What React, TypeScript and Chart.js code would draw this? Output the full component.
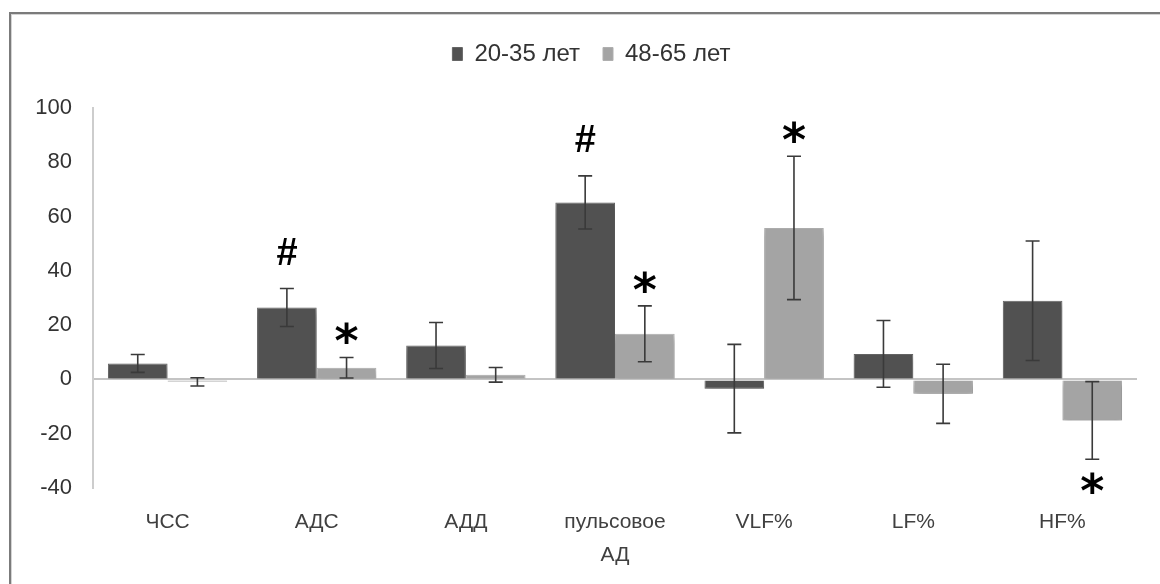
import React, { useEffect, useRef } from 'react';
import { Chart, registerables } from 'chart.js';

Chart.register(...registerables);

const categories: (string | string[])[] = ['ЧСС', 'АДС', 'АДД', ['пульсовое', 'АД'], 'VLF%', 'LF%', 'HF%'];
const seriesNames = ['20-35 лет', '48-65 лет'];
const young = [5.9, 26.5, 12.5, 65.2, -3.4, 9.4, 29.0];
const youngErr = [3.3, 7.0, 8.5, 9.8, 16.3, 12.3, 22.0];
const old = [-0.9, 4.3, 1.7, 16.8, 55.8, -5.3, -15.1];
const oldErr = [1.5, 3.8, 2.7, 10.3, 26.4, 10.9, 14.3];
const yMin = -40;
const yMax = 100;
const yStep = 20;
const markSeries = [0, 1, 0, 1, 1, 1];
const markIndex = [1, 1, 3, 3, 4, 6];
const markText = ['#', '*', '#', '*', '*', '*'];
const markSide = ['up', 'up', 'up', 'up', 'up', 'down'];

const FONT = '"Liberation Sans", Arial, sans-serif';

export default function App() {
  const ref = useRef<HTMLCanvasElement | null>(null);

  useEffect(() => {
    if (!ref.current) return;
    const vals = [young, old];
    const errs = [youngErr, oldErr];

    const legendTweak = {
      id: 'legendTweak',
      beforeInit(chart: any) {
        const lg = chart.legend;
        const origFit = lg.fit;
        lg.fit = function () {
          origFit.call(this);
          this.height += 32;
        };
        const origDraw = lg.draw;
        lg.draw = function (...args: any[]) {
          const c = chart.ctx;
          c.save();
          c.translate(18, 0);
          origDraw.apply(this, args);
          c.restore();
        };
      },
    };

    const shadow = {
      id: 'barShadow',
      beforeDatasetDraw(chart: any) {
        const c = chart.ctx;
        c.save();
        c.shadowColor = 'rgba(0,0,0,0.28)';
        c.shadowBlur = 6;
        c.shadowOffsetX = 1;
        c.shadowOffsetY = 4;
      },
      afterDatasetDraw(chart: any) {
        chart.ctx.restore();
      },
    };

    const errorBars = {
      id: 'errorBars',
      afterDatasetsDraw(chart: any) {
        const c = chart.ctx;
        const ys = chart.scales.y;
        c.save();
        c.strokeStyle = '#3a3a3a';
        c.lineWidth = 1.6;
        for (let s = 0; s < 2; s++) {
          const meta = chart.getDatasetMeta(s);
          meta.data.forEach((bar: any, i: number) => {
            const x = bar.x;
            const top = ys.getPixelForValue(vals[s][i] + errs[s][i]);
            const bot = ys.getPixelForValue(vals[s][i] - errs[s][i]);
            c.beginPath();
            c.moveTo(x, top);
            c.lineTo(x, bot);
            c.moveTo(x - 7, top);
            c.lineTo(x + 7, top);
            c.moveTo(x - 7, bot);
            c.lineTo(x + 7, bot);
            c.stroke();
          });
        }
        c.fillStyle = '#000';
        c.textAlign = 'left';
        c.textBaseline = 'alphabetic';
        for (let k = 0; k < markText.length; k++) {
          const s = markSeries[k];
          const i = markIndex[k];
          const bar = chart.getDatasetMeta(s).data[i];
          const t = markText[k];
          c.font = t === '#' ? 'bold 38px "Liberation Sans", Arial, sans-serif' : 'bold 46px "DejaVu Sans", sans-serif';
          const off = t === '#' ? 37 : 24;
          let cy: number;
          if (markSide[k] === 'up') {
            cy = ys.getPixelForValue(vals[s][i] + errs[s][i]) - off;
          } else {
            cy = ys.getPixelForValue(vals[s][i] - errs[s][i]) + off;
          }
          const m = c.measureText(t);
          const asc = m.actualBoundingBoxAscent;
          const desc = m.actualBoundingBoxDescent;
          const left = m.actualBoundingBoxLeft;
          const right = m.actualBoundingBoxRight;
          const bx = bar.x - (right - left) / 2;
          const by = cy + (asc - desc) / 2;
          c.fillText(t, bx, by);
        }
        c.restore();
      },
    };

    const chart = new Chart(ref.current, {
      type: 'bar',
      data: {
        labels: categories,
        datasets: [
          {
            label: seriesNames[0],
            data: young,
            backgroundColor: '#515151',
            borderColor: '#656565',
            borderWidth: 1,
            categoryPercentage: 0.8,
            barPercentage: 1.0,
          },
          {
            label: seriesNames[1],
            data: old,
            backgroundColor: '#a4a4a4',
            borderColor: '#afafaf',
            borderWidth: 1,
            categoryPercentage: 0.8,
            barPercentage: 1.0,
          },
        ],
      },
      options: {
        responsive: false,
        animation: false,
        layout: { padding: { top: 19, left: 10, right: 23, bottom: 0 } },
        plugins: {
          legend: {
            display: true,
            position: 'top',
            labels: {
              boxWidth: 10,
              boxHeight: 13,
              padding: 23,
              color: '#333333',
              font: { family: FONT, size: 24 },
            },
          },
          tooltip: { enabled: false },
        },
        scales: {
          x: {
            grid: { display: false, drawTicks: false },
            border: { display: false },
            ticks: {
              color: '#404040',
              padding: 18,
              maxRotation: 0,
              autoSkip: false,
              font: { family: FONT, size: 21, lineHeight: 1.55 },
            },
            afterFit(scale: any) {
              scale.height = 96;
            },
          },
          y: {
            min: yMin,
            max: yMax,
            ticks: {
              stepSize: yStep,
              color: '#333333',
              padding: 21,
              font: { family: FONT, size: 22 },
            },
            grid: {
              drawTicks: false,
              lineWidth: 2,
              color: (c: any) => (c.tick && c.tick.value === 0 ? '#c4c4c4' : 'rgba(0,0,0,0)'),
            },
            border: { display: true, color: '#cdcdcd', width: 2 },
            afterFit(scale: any) {
              scale.width = 83;
            },
          },
        },
      },
      plugins: [legendTweak, shadow, errorBars],
    } as any);

    return () => chart.destroy();
  }, []);

  return (
    <div style={{ position: 'fixed', left: 0, top: 0, width: 1160, height: 584, overflow: 'hidden', background: '#fff' }}>
      <div
        style={{
          position: 'absolute',
          left: 9,
          top: 12,
          width: 1300,
          height: 700,
          borderLeft: '2px solid #7b7b7b',
          borderTop: '2px solid #7b7b7b',
        }}
      >
        <div style={{ width: '100%', height: '100%', borderLeft: '1px solid #d4d4d4', borderTop: '1px solid #d4d4d4' }} />
      </div>
      <canvas ref={ref} width={1160} height={584} style={{ position: 'absolute', left: 0, top: 0 }} />
    </div>
  );
}
